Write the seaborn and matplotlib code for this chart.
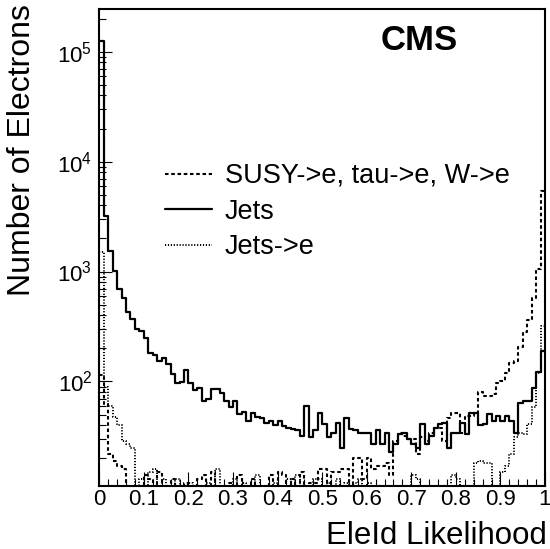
import numpy as np
import pandas as pd
import matplotlib
matplotlib.use("Agg")
import matplotlib.pyplot as plt
from matplotlib.lines import Line2D
from matplotlib.ticker import MultipleLocator, LogLocator, FixedLocator, FixedFormatter, NullFormatter
import seaborn as sns

# ---------------- data (counts per bin, 100 bins on [0,1]) ----------------
x_range = (0.0, 1.0)
n_bins = 100

jets = [126000, 3200, 1550, 1020, 700, 570, 430, 370, 300, 290,
        250, 180, 175, 155, 165, 145, 118, 96, 98, 128,
        96, 84, 88, 67, 70, 86, 86, 78, 67, 58,
        67, 51, 53, 44, 52, 48, 47, 42, 44, 40,
        44, 39, 38, 37, 36, 32, 60, 31, 36, 52,
        41, 31, 34, 42, 25, 47, 37, 36, 34, 34,
        34, 27, 36, 27, 34, 23, 27, 33, 34, 30,
        27, 25, 41, 27, 32, 38, 41, 42, 25, 34,
        34, 42, 33, 52, 52, 40, 41, 51, 44, 49,
        44, 49, 44, 34, 64, 66, 67, 88, 121, 190]

susy = [115, 63, 22, 19, 17, 16, 8, 8, 8, 8,
        14, 13, 8, 15, 8, 8, 13, 8, 8, 12,
        8, 8, 13, 14, 8, 15, 8, 8, 8, 12,
        8, 14, 8, 8, 13, 8, 8, 8, 14, 8,
        15, 14, 8, 13, 8, 15, 8, 12, 12, 16,
        16, 8, 15, 15, 16, 16, 8, 20, 20, 13,
        20, 16, 17, 17, 18, 14, 29, 34, 32, 30,
        30, 22, 31, 29, 34, 38, 38, 29, 47, 52,
        52, 34, 49, 49, 52, 80, 74, 74, 77, 96,
        102, 120, 146, 155, 204, 280, 360, 570, 1060, 5400]

jets_to_e = [1500, 90, 60, 48, 40, 29, 27, 25, 8, 13,
             8, 15, 16, 8, 13, 8, 8, 13, 8, 8,
             12, 8, 8, 8, 12, 8, 16, 8, 8, 8,
             13, 8, 12, 8, 8, 14, 8, 8, 8, 12,
             8, 8, 13, 8, 14, 8, 8, 8, 13, 13,
             8, 12, 8, 13, 8, 12, 8, 12, 13, 8,
             12, 8, 8, 8, 8, 8, 8, 8, 8, 8,
             14, 13, 8, 8, 8, 8, 8, 8, 8, 14,
             13, 8, 8, 8, 18, 19, 18, 18, 8, 8,
             15, 17, 22, 31, 34, 33, 41, 58, 120, 320]

series_labels = ["SUSY->e, tau->e, W->e", "Jets", "Jets->e"]
x_ticks = [0, 0.1, 0.2, 0.3, 0.4, 0.5, 0.6, 0.7, 0.8, 0.9, 1]
x_tick_labels = ["0", "0.1", "0.2", "0.3", "0.4", "0.5", "0.6", "0.7", "0.8", "0.9", "1"]
y_ticks = [1e2, 1e3, 1e4, 1e5]
y_tick_labels = [r"$10^{2}$", r"$10^{3}$", r"$10^{4}$", r"$10^{5}$"]

# ---------------- style ----------------
sns.set_style("ticks")
plt.rcParams["font.family"] = ["Liberation Sans", "DejaVu Sans"]
plt.rcParams["mathtext.fontset"] = "custom"
plt.rcParams["mathtext.rm"] = "Liberation Sans"
plt.rcParams["mathtext.it"] = "Liberation Sans:italic"
plt.rcParams["mathtext.bf"] = "Liberation Sans:bold"
for k in ["text.color", "axes.labelcolor", "xtick.color", "ytick.color", "axes.edgecolor"]:
    plt.rcParams[k] = "black"

edges = np.linspace(x_range[0], x_range[1], n_bins + 1)
centers = 0.5 * (edges[:-1] + edges[1:])

df = pd.concat([
    pd.DataFrame({"x": centers, "w": susy, "s": series_labels[0]}),
    pd.DataFrame({"x": centers, "w": jets, "s": series_labels[1]}),
    pd.DataFrame({"x": centers, "w": jets_to_e, "s": series_labels[2]}),
], ignore_index=True)

fig = plt.figure(figsize=(5.5, 5.49), dpi=100)
W, H = 550, 549
L, R, T, B = 99.3, 545.0, 8.5, 486.0
ax = fig.add_axes([L / W, 1 - B / H, (R - L) / W, (B - T) / H])

styles = {
    series_labels[0]: dict(linestyle=(0, (1.7, 1.3)), linewidth=1.5),
    series_labels[1]: dict(linestyle="-", linewidth=1.6),
    series_labels[2]: dict(linestyle=(0, (0.6, 0.9)), linewidth=1.4),
}

for lab in series_labels:
    sub = df[df["s"] == lab]
    sns.histplot(data=sub, x="x", weights="w", bins=n_bins, binrange=x_range,
                 element="step", fill=False, color="black", ax=ax, **styles[lab])

ax.set_yscale("log")
ax.set_xlim(0, 1)
ax.set_ylim(11.2, 2.47e5)

# ticks
ax.xaxis.set_major_locator(FixedLocator(x_ticks))
ax.xaxis.set_major_formatter(FixedFormatter(x_tick_labels))
ax.xaxis.set_minor_locator(MultipleLocator(0.02))
ax.yaxis.set_major_locator(FixedLocator(y_ticks))
ax.yaxis.set_major_formatter(FixedFormatter(y_tick_labels))
ax.yaxis.set_minor_locator(LogLocator(base=10, subs=np.arange(2, 10), numticks=20))
ax.yaxis.set_minor_formatter(NullFormatter())

ax.tick_params(axis="x", which="major", direction="in", length=10, width=0.8,
               labelsize=16, pad=2, top=False)
ax.tick_params(axis="x", which="minor", direction="in", length=5, width=0.8, top=False)
ax.tick_params(axis="y", which="major", direction="in", length=9.5, width=0.8,
               labelsize=16, pad=5, right=False)
ax.tick_params(axis="y", which="minor", direction="in", length=4.8, width=0.8, right=False)

for sp in ax.spines.values():
    sp.set_visible(True)
    sp.set_linewidth(1.5)
    sp.set_color("black")

ax.set_xlabel("")
ax.set_ylabel("")
fig.text(547 / W, 1 - 543.5 / H, "EleId Likelihood", fontsize=22.5, ha="right", va="baseline")
fig.text(22 / W, 1 - 4 / H, "Number of Electrons", fontsize=23, rotation=90,
         ha="center", va="top")
fig.text(419 / W, 1 - 40 / H, "CMS", fontsize=25, fontweight="bold",
         ha="center", va="center")

handles = [Line2D([], [], color="black", **styles[lab]) for lab in series_labels]
ax.legend(handles, series_labels, loc="upper left",
          bbox_to_anchor=(165 / W, 1 - 163 / H), bbox_transform=fig.transFigure,
          frameon=False, fontsize=19.5, handlelength=1.75, handletextpad=0.45,
          labelspacing=0.36, borderpad=0, borderaxespad=0)

fig.savefig("out.png", dpi=100)
